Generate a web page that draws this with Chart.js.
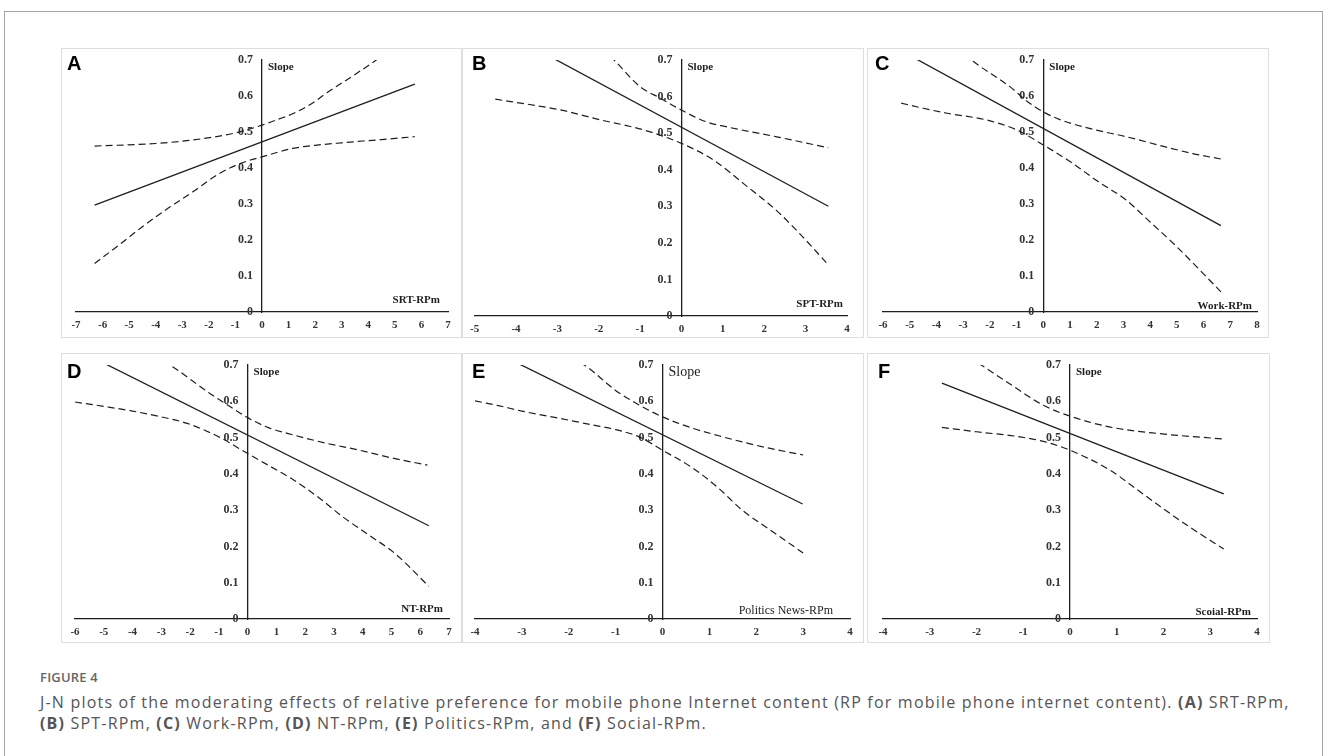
<!DOCTYPE html>
<html>
<head>
<meta charset="utf-8">
<script src="https://cdn.jsdelivr.net/npm/chart.js@4.4.0/dist/chart.umd.min.js"></script>
<style>
  body { margin: 0; background: #fff; width: 1328px; height: 756px; overflow: hidden; position: relative; }
  #frame { position: absolute; left: 4px; top: 11px; width: 1317px; height: 780px; border: 1px solid #a3a3a3; }
  canvas { position: absolute; outline: 1px solid #dedede; }
  #fig { position: absolute; left: 40px; top: 668px; font: 600 13px "Open Sans", sans-serif; color: #666; letter-spacing: 0.2px; }
  #cap { position: absolute; left: 40px; top: 692px; font: 16px/21px "Open Sans", sans-serif; letter-spacing: 1.2px; color: #555; white-space: nowrap; }
  #cap b { font-weight: 700; }
</style>
</head>
<body>
<div id="frame"></div>
<canvas id="pA"></canvas>
<canvas id="pB"></canvas>
<canvas id="pC"></canvas>
<canvas id="pD"></canvas>
<canvas id="pE"></canvas>
<canvas id="pF"></canvas>
<div id="fig">FIGURE 4</div>
<div id="cap">J-N plots of the moderating effects of relative preference for mobile phone Internet content (RP for mobile phone internet content). <b>(A)</b> SRT-RPm,<br><b>(B)</b> SPT-RPm, <b>(C)</b> Work-RPm, <b>(D)</b> NT-RPm, <b>(E)</b> Politics-RPm, and <b>(F)</b> Social-RPm.</div>
<script>
// panel letters, x-axis titles and ranges
const letters = ["A", "B", "C", "D", "E", "F"];
const xTitles = ["SRT-RPm", "SPT-RPm", "Work-RPm", "NT-RPm", "Politics News-RPm", "Scoial-RPm"];
const xMins = [-7, -5, -6, -6, -4, -4];
const xMaxs = [7, 4, 8, 7, 4, 4];
const yMin = 0;
const yMax = 0.7;

// slope estimate (solid) and confidence bounds (dashed), [moderator, slope]
const srtEst = [[-6.3, 0.297], [5.75, 0.633]];
const srtUpper = [[-6.3, 0.461], [-4, 0.468], [-2.6, 0.478], [-1.5, 0.49], [-0.8, 0.501], [0, 0.519], [0.6, 0.535], [1.2, 0.552], [2, 0.585], [2.4, 0.607], [3.3, 0.65], [4.3, 0.70], [5.75, 0.78]];
const srtLower = [[-6.3, 0.135], [-5.4, 0.185], [-4.5, 0.237], [-3.5, 0.29], [-2.6, 0.334], [-1.6, 0.385], [-0.8, 0.413], [0, 0.431], [1.2, 0.455], [2, 0.463], [3, 0.47], [4.5, 0.479], [5.75, 0.487]];

const sptEst = [[-4.5, 0.79], [3.55, 0.30]];
const sptUpper = [[-4.5, 0.99], [-3, 0.83], [-2, 0.74], [-1.63, 0.70], [-1, 0.627], [-0.5, 0.595], [0, 0.563], [0.6, 0.531], [1.1, 0.517], [2.3, 0.49], [3.55, 0.46]];
const sptLower = [[-4.5, 0.593], [-3.5, 0.575], [-2.9, 0.563], [-1.95, 0.536], [-1.3, 0.52], [-0.8, 0.505], [0, 0.472], [0.78, 0.426], [1.5, 0.362], [2.3, 0.288], [2.9, 0.22], [3.5, 0.146]];

const workEst = [[-5.4, 0.729], [6.65, 0.24]];
const workUpper = [[-5.4, 0.88], [-3.6, 0.76], [-2.6, 0.695], [-1.25, 0.626], [-0.6, 0.585], [0, 0.556], [0.6, 0.535], [1.13, 0.522], [2, 0.505], [3.1, 0.487], [4.5, 0.46], [5.6, 0.44], [6.65, 0.425]];
const workLower = [[-5.32, 0.58], [-4.5, 0.566], [-3.6, 0.552], [-2.1, 0.533], [-1, 0.506], [0, 0.464], [1.1, 0.413], [2, 0.365], [3.1, 0.311], [4, 0.25], [5, 0.181], [6.65, 0.056]];

const ntEst = [[-6, 0.745], [6.3, 0.257]];
const ntUpper = [[-6, 0.89], [-4, 0.757], [-2.7, 0.70], [-1.3, 0.621], [-0.6, 0.585], [0, 0.555], [0.7, 0.528], [1.6, 0.507], [2.7, 0.485], [3.9, 0.465], [5, 0.444], [6.25, 0.424]];
const ntLower = [[-6, 0.598], [-5, 0.586], [-4, 0.573], [-3, 0.557], [-2.1, 0.539], [-1, 0.502], [0, 0.456], [0.8, 0.42], [1.6, 0.383], [2.5, 0.333], [3.3, 0.282], [4.2, 0.232], [5.1, 0.182], [6.3, 0.09]];

const polEst = [[-4, 0.763], [2.99, 0.317]];
const polUpper = [[-4, 0.925], [-3, 0.82], [-2, 0.72], [-1.67, 0.70], [-1, 0.63], [-0.5, 0.59], [0, 0.557], [0.66, 0.525], [1.2, 0.505], [1.7, 0.488], [2.3, 0.47], [3, 0.452]];
const polLower = [[-4, 0.601], [-3.5, 0.588], [-3, 0.573], [-2, 0.548], [-1.5, 0.535], [-1, 0.522], [-0.5, 0.502], [0, 0.465], [0.66, 0.415], [1.2, 0.36], [1.7, 0.30], [2.3, 0.245], [3, 0.182]];

const socEst = [[-2.74, 0.65], [3.29, 0.345]];
const socUpper = [[-2.74, 0.772], [-1.9, 0.70], [-1.3, 0.649], [-0.57, 0.589], [0, 0.559], [0.86, 0.529], [1.9, 0.511], [3.29, 0.496]];
const socLower = [[-2.74, 0.528], [-2, 0.516], [-1.07, 0.502], [-0.5, 0.487], [0, 0.465], [0.86, 0.41], [1.4, 0.36], [1.93, 0.31], [2.6, 0.25], [3.29, 0.193]];

const estimates = [srtEst, sptEst, workEst, ntEst, polEst, socEst];
const uppers = [srtUpper, sptUpper, workUpper, ntUpper, polUpper, socUpper];
const lowers = [srtLower, sptLower, workLower, ntLower, polLower, socLower];

// layout of each panel on the page
const boxes = [
  { left: 62, top: 49, w: 399, h: 288, pad: { left: 14, right: 13, top: 11, bottom: 25 }, dx: 8, dy: 12, lx: 5, ly: 21 },
  { left: 463, top: 49, w: 400, h: 288, pad: { left: 10, right: 16, top: 11, bottom: 21 }, dx: 4, dy: 12, lx: 9, ly: 21 },
  { left: 868, top: 49, w: 400, h: 288, pad: { left: 15, right: 11, top: 11, bottom: 25 }, dx: 5, dy: 6, lx: 7, ly: 21 },
  { left: 62, top: 354, w: 399, h: 288, pad: { left: 13, right: 12, top: 11, bottom: 23 }, dx: 6, dy: 10, lx: 5, ly: 24 },
  { left: 463, top: 354, w: 400, h: 288, pad: { left: 12, right: 13, top: 11, bottom: 23 }, dx: 17, dy: 8, lx: 9, ly: 24 },
  { left: 868, top: 354, w: 401, h: 288, pad: { left: 15, right: 12, top: 11, bottom: 23 }, dx: 6, dy: 7, lx: 10, ly: 24 }
];

const ink = "#1e1e1e";
const xTickFont = { family: "'Liberation Serif', serif", size: 11, weight: "bold" };
const yTickFont = { family: "'Liberation Serif', serif", size: 12, weight: "bold" };

const panelText = {
  id: "panelText",
  afterDraw(chart, args, o) {
    const { ctx } = chart;
    const xs = chart.scales.x;
    const ys = chart.scales.y;
    const x0 = xs.getPixelForValue(0);
    ctx.save();
    ctx.fillStyle = ink;
    ctx.textBaseline = "middle";
    ctx.textAlign = "left";
    ctx.font = o.slopeFont;
    ctx.fillText("Slope", x0 + 6, ys.top + 7);
    ctx.textAlign = "right";
    ctx.font = o.titleFont;
    ctx.fillText(o.title, xs.right - o.dx, ys.bottom - o.dy);
    ctx.textAlign = "left";
    ctx.textBaseline = "alphabetic";
    ctx.fillStyle = "#000";
    ctx.font = "bold 20px 'Liberation Sans', Arial, sans-serif";
    ctx.fillText(o.letter, o.lx, o.ly);
    ctx.restore();
  }
};

letters.forEach((letter, i) => {
  const b = boxes[i];
  const cv = document.getElementById("p" + letter);
  cv.width = b.w;
  cv.height = b.h;
  cv.style.left = b.left + "px";
  cv.style.top = b.top + "px";
  const plain = i === 4;
  new Chart(cv, {
    type: "line",
    data: {
      datasets: [
        { data: estimates[i], borderColor: ink, borderWidth: 1.3, pointRadius: 0, tension: 0 },
        { data: uppers[i], borderColor: ink, borderWidth: 1.2, borderDash: [7, 4], pointRadius: 0, cubicInterpolationMode: "monotone" },
        { data: lowers[i], borderColor: ink, borderWidth: 1.2, borderDash: [7, 4], pointRadius: 0, cubicInterpolationMode: "monotone" }
      ]
    },
    options: {
      responsive: false,
      animation: false,
      events: [],
      layout: { padding: b.pad },
      plugins: {
        legend: { display: false },
        tooltip: { enabled: false },
        panelText: {
          letter,
          title: xTitles[i],
          dx: b.dx,
          dy: b.dy,
          lx: b.lx,
          ly: b.ly,
          slopeFont: plain ? "14px 'Liberation Serif', serif" : "bold 11px 'Liberation Serif', serif",
          titleFont: plain ? "12px 'Liberation Serif', serif" : "bold 11px 'Liberation Serif', serif"
        }
      },
      scales: {
        x: {
          type: "linear",
          min: xMins[i],
          max: xMaxs[i],
          position: { y: 0 },
          grid: { display: false, drawTicks: false },
          border: { color: ink, width: 1.3 },
          ticks: { stepSize: 1, font: xTickFont, color: "#333", padding: 7 }
        },
        y: {
          type: "linear",
          min: yMin,
          max: yMax,
          position: { x: 0 },
          grid: { display: false, drawTicks: false },
          border: { color: ink, width: 1.3 },
          // the centred axis puts labels flush on the line, so pad them with spaces
          ticks: { stepSize: 0.1, font: yTickFont, color: "#333", callback: (v) => String(+v.toFixed(1)) + "   " }
        }
      }
    },
    plugins: [panelText]
  });
});
</script>
</body>
</html>
